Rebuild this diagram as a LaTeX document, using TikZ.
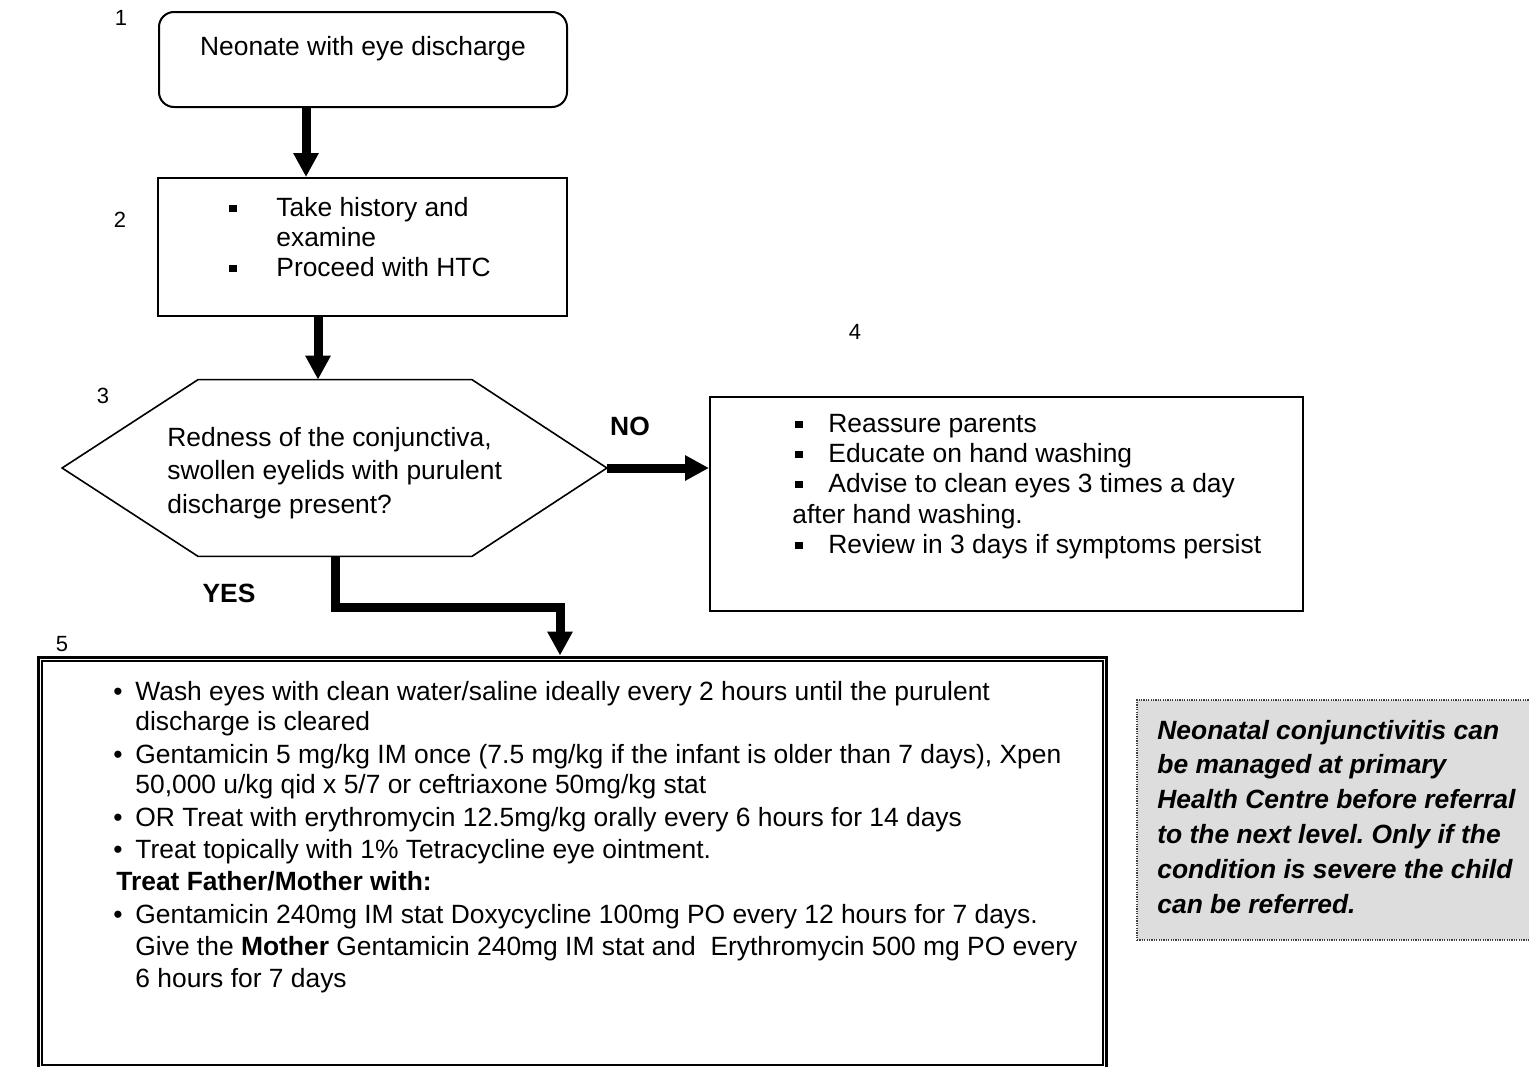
\documentclass[tikz,border=0pt]{standalone}
\usepackage{fontspec}
\setmainfont{Liberation Sans}
\usetikzlibrary{arrows.meta,calc}
\frenchspacing

% small square bullet and round bullet
\newcommand{\sqb}{\rule[1.8pt]{3.8pt}{3.8pt}}
\newcommand{\rdb}{\textbullet}

\begin{document}
\begin{tikzpicture}[x=0.5pt,y=-0.5pt,
  font=\fontsize{13.2}{15}\selectfont,
  frame/.style={draw, line width=1pt, inner sep=0pt},
  txt/.style={inner sep=0pt, anchor=base west},
  num/.style={inner sep=0pt, anchor=base, font=\fontsize{11}{13}\selectfont},
  lbl/.style={inner sep=0pt, anchor=base, font=\fontsize{13.2}{15}\selectfont\bfseries},
  flow/.style={line width=4.5pt, -{Triangle[width=12pt,length=12pt]}},
]
\useasboundingbox (0,0) rectangle (1529,1066);

% step numbers
\node[num] (n1) at (121,25) {1};
\node[num] (n2) at (120,227) {2};
\node[num] (n3) at (103,403) {3};
\node[num] (n4) at (855,339) {4};
\node[num] (n5) at (62,651) {5};

% 1: start box
\node[frame, rounded corners=7.5pt, minimum width=204pt, minimum height=47.5pt] (box1) at (363,59.5) {};
\node[inner sep=0pt, anchor=base] (t1) at (363,55) {Neonate with eye discharge};

% 2: history
\node[frame, minimum width=204.5pt, minimum height=69pt] (box2) at (362.5,247) {};
\node[txt] (t2) at (229,216) {\begin{tabular}[t]{@{}p{23.5pt}@{}l@{}}
\sqb & Take history and\\
 & examine\\
\sqb & Proceed with HTC
\end{tabular}};

% 3: decision hexagon
\node[inner sep=0pt, minimum width=272pt, minimum height=88pt] (q) at (334.5,468) {};
\draw[line width=0.8pt] (q.west) -- ($(q.north west)+(136,0)$) -- ($(q.north east)+(-135,0)$)
  -- (q.east) -- ($(q.south east)+(-135,0)$) -- ($(q.south west)+(136,0)$) -- cycle;
\node[txt, font=\fontsize{13.2}{16.8}\selectfont] (t3) at (167,446) {\begin{tabular}[t]{@{}l@{}}
Redness of the conjunctiva,\\
swollen eyelids with purulent\\
discharge present?
\end{tabular}};

% 4: no branch
\node[frame, minimum width=296.5pt, minimum height=107pt] (box4) at (1006.5,504) {};
\node[txt] (t4) at (792,432) {\begin{tabular}[t]{@{}p{18pt}@{}l@{}}
\hspace*{1.5pt}\sqb & Reassure parents\\
\hspace*{1.5pt}\sqb & Educate on hand washing\\
\hspace*{1.5pt}\sqb & Advise to clean eyes 3 times a day\\[0.5pt]
\multicolumn{2}{@{}l@{}}{after hand washing.}\\
\hspace*{1.5pt}\sqb & Review in 3 days if symptoms persist
\end{tabular}};

% 5: yes branch treatment
\node[draw, line width=1.5pt, inner sep=0pt, minimum width=534pt, minimum height=205.5pt] (box5) at (572,862.5) {};
\draw[line width=1pt] ($(box5.north west)+(5,5)$) rectangle ($(box5.south east)+(-5,-5)$);
\node[txt] (t5) at (113,700) {\begin{tabular}[t]{@{}p{11pt}@{}l@{}}
\rdb & Wash eyes with clean water/saline ideally every 2 hours until the purulent\\
 & discharge is cleared\\[1.5pt]
\rdb & Gentamicin 5 mg/kg IM once (7.5 mg/kg if the infant is older than 7 days), Xpen\\
 & 50,000 u/kg qid x 5/7 or ceftriaxone 50mg/kg stat\\[1.5pt]
\rdb & OR Treat with erythromycin 12.5mg/kg orally every 6 hours for 14 days\\[1pt]
\rdb & Treat topically with 1\% Tetracycline eye ointment.\\[1pt]
\multicolumn{2}{@{\hspace{1.5pt}}l@{}}{\bfseries Treat Father/Mother with:}\\[1.5pt]
\rdb & Gentamicin 240mg IM stat Doxycycline 100mg PO every 12 hours for 7 days.\\[1pt]
 & Give the \textbf{Mother} Gentamicin 240mg IM stat and\ \ Erythromycin 500 mg PO every\\[1pt]
 & 6 hours for 7 days
\end{tabular}};

% side note
\node[draw=black!75, dash pattern=on 0.6pt off 0.6pt, line width=0.8pt,
  fill={rgb,255:red,221;green,221;blue,221}, inner sep=0pt,
  minimum width=197.5pt, minimum height=120pt] (note) at (1334.5,820) {};
\node[txt, font=\fontsize{13.2}{17.4}\selectfont\bfseries\itshape] (tn) at (1157,739) {\begin{tabular}[t]{@{}l@{}}
Neonatal conjunctivitis can\\
be managed at primary\\
Health Centre before referral\\
to the next level. Only if the\\
condition is severe the child\\
can be referred.
\end{tabular}};

% connectors
\coordinate (c12) at (306,0);
\coordinate (c23) at (318,0);
\coordinate (ys) at (335,0);
\coordinate (yb) at (560,607);
\draw[flow] (box1.south -| c12) -- (box2.north -| c12);
\draw[flow] (box2.south -| c23) -- (q.north -| c23);
\draw[flow] (q.east) -- (q.east -| box4.west);
\draw[flow] (q.south -| ys) |- (yb) -- (yb |- box5.north);

% branch labels
\node[lbl] (no) at (630,435) {NO};
\node[lbl] (yes) at (229,602) {YES};
\end{tikzpicture}
\end{document}
